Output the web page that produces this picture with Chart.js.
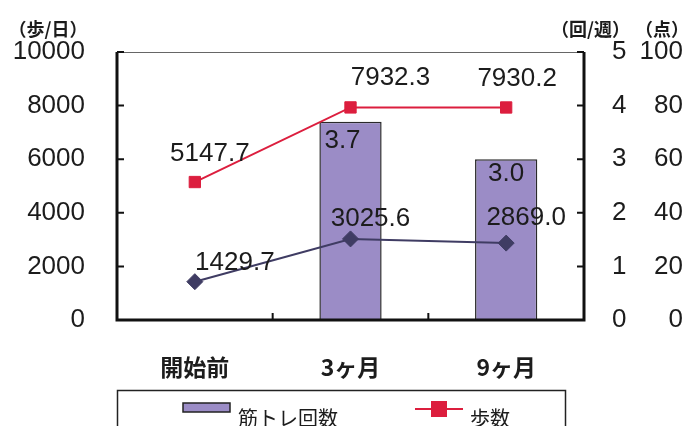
<!DOCTYPE html>
<html>
<head>
<meta charset="utf-8">
<script src="https://cdn.jsdelivr.net/npm/chart.js@4"></script>
<style>
  html, body { margin: 0; padding: 0; background: #fff; overflow: hidden; }
</style>
</head>
<body>
<canvas id="walk" width="693" height="426"></canvas>
<script>
// values
const periods = ['開始前', '3ヶ月', '9ヶ月'];
const trainingPerWeek = [null, 3.7, 3.0];
const stepsPerDay = [5147.7, 7932.3, 7930.2];
const lowSteps = [1429.7, 3025.6, 2869.0];
const stepTicks = [0, 2000, 4000, 6000, 8000, 10000];
const weekTicks = [0, 1, 2, 3, 4, 5];
const scoreTicks = [0, 20, 40, 60, 80, 100];

// where each value label sits relative to its mark (dx, dy)
const barLabelShift = [[0, 0], [-8, 19], [0, 15]];
const stepLabelShift = [[15, -28], [40, -30], [11, -29]];
const lowLabelShift = [[40, -19], [20, -20], [20, -25]];

const numFont = '"Liberation Sans", Arial, sans-serif';
const jpFont = '"Noto Sans CJK JP", sans-serif';
const ink = '#1c1c1c';
const barFill = '#9b8cc6';
const red = '#dc1e3e';
const navy = '#3f3c63';

function fixTicks(list) {
  return s => { s.ticks = list.map(v => ({ value: v })); };
}
const plain = v => String(v);

const framePlugin = {
  id: 'frame',
  afterDatasetsDraw(chart) {
    const { ctx, chartArea: a, scales } = chart;
    ctx.save();
    // top border
    ctx.strokeStyle = '#666';
    ctx.lineWidth = 1.2;
    ctx.beginPath();
    ctx.moveTo(a.left, a.top + 0.5);
    ctx.lineTo(a.right, a.top + 0.5);
    ctx.stroke();
    // axis lines
    ctx.strokeStyle = '#111';
    ctx.lineWidth = 3;
    ctx.beginPath();
    ctx.moveTo(a.left, a.top);
    ctx.lineTo(a.left, a.bottom);
    ctx.lineTo(a.right, a.bottom);
    ctx.lineTo(a.right, a.top);
    ctx.stroke();
    // tick marks pointing inward
    ctx.lineWidth = 2;
    ctx.beginPath();
    scales.y.ticks.forEach(t => {
      const y = scales.y.getPixelForValue(t.value);
      ctx.moveTo(a.left, y);
      ctx.lineTo(a.left + 7, y);
    });
    scales.y1.ticks.forEach(t => {
      const y = scales.y1.getPixelForValue(t.value);
      ctx.moveTo(a.right - 7, y);
      ctx.lineTo(a.right, y);
    });
    for (let i = 0; i < periods.length - 1; i++) {
      const x = (scales.x.getPixelForValue(i) + scales.x.getPixelForValue(i + 1)) / 2;
      ctx.moveTo(x, a.bottom);
      ctx.lineTo(x, a.bottom - 7);
    }
    ctx.stroke();

    // value labels
    ctx.fillStyle = ink;
    ctx.font = '26px ' + numFont;
    ctx.textAlign = 'center';
    ctx.textBaseline = 'middle';
    const shifts = [barLabelShift, stepLabelShift, lowLabelShift];
    chart.data.datasets.forEach((ds, di) => {
      const meta = chart.getDatasetMeta(di);
      meta.data.forEach((el, i) => {
        const v = ds.data[i];
        if (v == null) return;
        const [dx, dy] = shifts[di][i];
        ctx.fillText(v.toFixed(1), el.x + dx, el.y + dy);
      });
    });
    ctx.restore();
  },
  afterDraw(chart) {
    const { ctx, scales } = chart;
    ctx.save();
    ctx.fillStyle = ink;
    ctx.textBaseline = 'middle';
    // axis units
    ctx.font = 'bold 18px ' + jpFont;
    ctx.textAlign = 'center';
    ctx.fillText('（歩/日）', 48, 29);
    ctx.textAlign = 'right';
    ctx.fillText('（回/週）', scales.y1.right + 1, 29);
    ctx.fillText('（点）', scales.y2.right + 6, 29);

    // legend box, cut by the bottom edge
    ctx.strokeStyle = '#222';
    ctx.lineWidth = 1.5;
    ctx.strokeRect(117.5, 390.5, 448, 60);
    ctx.font = '20px ' + jpFont;
    ctx.textAlign = 'left';
    let x = 183;
    chart.data.datasets.forEach(ds => {
      if (!ds.inLegend) return;
      if (ds.type === 'bar') {
        ctx.fillStyle = ds.backgroundColor;
        ctx.fillRect(x, 403, 47, 9);
        ctx.strokeStyle = '#222';
        ctx.lineWidth = 1.5;
        ctx.strokeRect(x, 403, 47, 9);
        x += 55;
      } else {
        ctx.strokeStyle = ds.borderColor;
        ctx.lineWidth = 2;
        ctx.beginPath();
        ctx.moveTo(x, 409);
        ctx.lineTo(x + 48, 409);
        ctx.stroke();
        ctx.fillStyle = ds.pointBackgroundColor;
        ctx.fillRect(x + 16, 401, 16, 16);
        x += 55;
      }
      ctx.fillStyle = ink;
      ctx.fillText(ds.label, x, 418);
      x += ctx.measureText(ds.label).width + 77;
    });
    ctx.restore();
  }
};

new Chart(document.getElementById('walk'), {
  data: {
    labels: periods,
    datasets: [
      {
        type: 'bar',
        label: '筋トレ回数',
        inLegend: true,
        data: trainingPerWeek,
        yAxisID: 'y1',
        backgroundColor: barFill,
        borderColor: '#2a2a2a',
        borderWidth: 1.5,
        borderSkipped: 'bottom',
        categoryPercentage: 1,
        barPercentage: 0.4,
        order: 3
      },
      {
        type: 'line',
        label: '歩数',
        inLegend: true,
        data: stepsPerDay,
        yAxisID: 'y',
        borderColor: red,
        borderWidth: 2,
        pointStyle: 'rect',
        pointRadius: 8,
        pointBackgroundColor: red,
        pointBorderColor: red,
        pointBorderWidth: 1,
        order: 1
      },
      {
        type: 'line',
        label: '',
        inLegend: false,
        data: lowSteps,
        yAxisID: 'y',
        borderColor: navy,
        borderWidth: 2,
        pointStyle: 'rectRot',
        pointRadius: 8,
        pointBackgroundColor: navy,
        pointBorderColor: navy,
        pointBorderWidth: 1,
        order: 2
      }
    ]
  },
  options: {
    responsive: false,
    animation: false,
    layout: { padding: { left: 0, right: 10, top: 52, bottom: 16 } },
    plugins: { legend: { display: false }, tooltip: { enabled: false } },
    scales: {
      x: {
        grid: { display: false },
        border: { display: false },
        ticks: {
          padding: 25,
          color: ink,
          font: { family: jpFont, size: 23, weight: 'bold' }
        },
        afterFit: s => { s.height = 90; }
      },
      y: {
        position: 'left',
        min: stepTicks[0],
        max: stepTicks[stepTicks.length - 1],
        afterBuildTicks: fixTicks(stepTicks),
        grid: { display: false, drawTicks: false },
        border: { display: false },
        ticks: { padding: 32, color: ink, font: { family: numFont, size: 26 }, callback: plain },
        afterFit: s => { s.width = 117; }
      },
      y1: {
        position: 'right',
        weight: 0,
        min: weekTicks[0],
        max: weekTicks[weekTicks.length - 1],
        afterBuildTicks: fixTicks(weekTicks),
        grid: { display: false, drawTicks: false },
        border: { display: false },
        ticks: { padding: 28, color: ink, font: { family: numFont, size: 26 }, callback: plain },
        afterFit: s => { s.width = 45; }
      },
      y2: {
        position: 'right',
        weight: 1,
        min: scoreTicks[0],
        max: scoreTicks[scoreTicks.length - 1],
        afterBuildTicks: fixTicks(scoreTicks),
        grid: { display: false, drawTicks: false },
        border: { display: false },
        ticks: { padding: 0, crossAlign: 'far', color: ink, font: { family: numFont, size: 26 }, callback: plain },
        afterFit: s => { s.width = 54; }
      }
    }
  },
  plugins: [framePlugin]
});
</script>
</body>
</html>
